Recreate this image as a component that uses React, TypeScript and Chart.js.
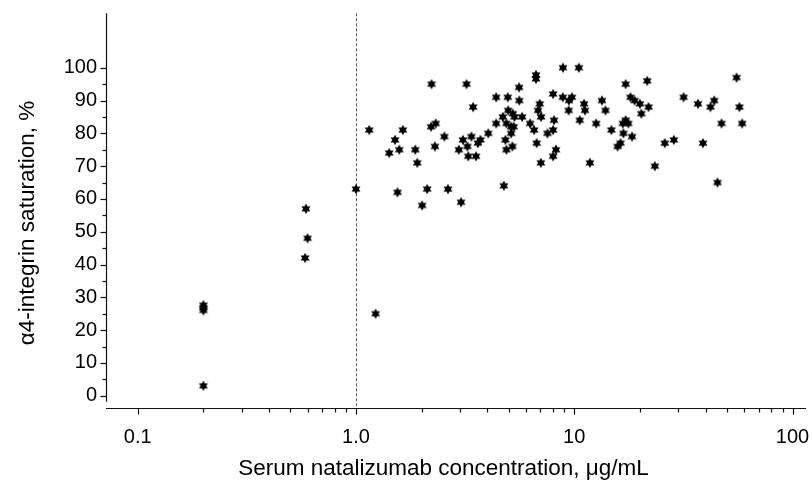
import React, { useEffect, useRef } from 'react';
import { Chart, registerables } from 'chart.js';

Chart.register(...registerables);

// ---- data ----
const concentration = [
  0.2, 0.2, 0.2, 0.2,
  0.59, 0.6, 0.585,
  1.0, 1.23, 2.01, 3.03,
  2.22, 3.21, 1.15, 1.64, 1.51, 1.42, 1.58, 1.87, 1.91, 2.21, 2.32, 2.54, 2.3,
  3.09, 2.96, 3.24, 3.27, 1.55, 2.12, 2.64,
  3.44, 3.38, 3.55, 3.72, 3.62, 4.04, 4.39, 4.39, 4.96, 4.76, 5.59, 5.6,
  4.71, 4.98, 5.23, 5.32, 5.77, 4.89, 5.14, 5.28, 5.14, 4.84, 4.89, 5.21,
  6.28, 6.55, 6.73, 7.03, 6.68, 6.68, 6.95, 6.83, 7.05,
  8.0, 8.08, 8.0, 7.54, 8.25, 8.0, 8.88, 10.5, 8.86, 9.46, 9.76, 9.43,
  11.1, 11.2, 10.6, 11.8, 12.6, 13.4, 13.9, 14.8,
  17.2, 21.6, 18.1, 18.9, 20.0, 21.9, 20.3, 17.2, 16.7, 17.7, 16.8, 18.4, 16.3, 15.8,
  23.4, 26.0, 28.6, 31.7, 36.9, 38.9, 42.1, 43.8, 45.3, 47.3, 55.4, 57.1, 58.8,
];
const saturation = [
  27.6, 26.8, 26, 3,
  57, 48, 42,
  63, 25, 58, 59,
  95, 95, 81, 81, 78, 74, 75, 75, 71, 82, 83, 79, 76,
  78, 75, 76, 73, 62, 63, 63,
  88, 79, 73, 78, 77, 80, 83, 91, 91, 64, 94, 90,
  85, 87, 86, 85, 85, 83, 82, 82, 80, 78, 75, 76,
  83, 81, 77, 71, 97.8, 96.6, 89, 87, 85,
  92, 84, 81, 80, 75, 73, 100, 100, 91, 90, 91, 87,
  89, 87, 84, 71, 83, 90, 87, 81,
  95, 96, 91, 90, 89, 88, 86, 84, 83, 83, 80, 79, 77, 76,
  70, 77, 78, 91, 89, 77, 88, 90, 65, 83, 97, 88, 83,
];

const xTickValues = [
  0.1, 0.2, 0.3, 0.4, 0.5, 0.6, 0.7, 0.8, 0.9,
  1, 2, 3, 4, 5, 6, 7, 8, 9,
  10, 20, 30, 40, 50, 60, 70, 80, 90, 100,
];
const xMajorValues = [0.1, 1, 10, 100];
const xMajorLabels = ['0.1', '1.0', '10', '100'];
const yTickValues = [0, 5, 10, 15, 20, 25, 30, 35, 40, 45, 50, 55, 60, 65, 70, 75, 80, 85, 90, 95, 100];
const xRange = [0.0716, 115.3];
const yRange = [-3.66, 116.6];
const yAxisLineBottom = -1.83;
const thresholdConcentration = 1.0;
const PAD = '\u00a0\u00a0\u00a0\u00a0';
const xTitle = 'Serum natalizumab concentration, \u03bcg/mL' + PAD;
const yTitle = '\u03b14-integrin saturation, %' + PAD;

const FONT = "'Liberation Sans', Arial, Helvetica, sans-serif";

function makeStar(): HTMLCanvasElement {
  const c = document.createElement('canvas');
  c.width = 12;
  c.height = 12;
  const g = c.getContext('2d')!;
  g.fillStyle = '#000';
  g.beginPath();
  const cx = 6, cy = 6, R = 5.2, r = 2.8;
  for (let i = 0; i < 12; i++) {
    const a = -Math.PI / 2 + (i * Math.PI) / 6;
    const rad = i % 2 === 0 ? R : r;
    const px = cx + rad * Math.cos(a);
    const py = cy + rad * Math.sin(a);
    if (i === 0) g.moveTo(px, py);
    else g.lineTo(px, py);
  }
  g.closePath();
  g.fill();
  return c;
}

const axesPlugin = {
  id: 'customAxes',
  beforeDatasetsDraw(chart: any) {
    const { ctx, chartArea, scales } = chart;
    const xs = scales.x;
    const ys = scales.y;
    ctx.save();
    // threshold dashed line
    const dx = Math.round(xs.getPixelForValue(thresholdConcentration)) + 0.5;
    ctx.strokeStyle = '#555';
    ctx.lineWidth = 1;
    ctx.setLineDash([3, 2]);
    ctx.beginPath();
    ctx.moveTo(dx, chartArea.top);
    ctx.lineTo(dx, chartArea.bottom);
    ctx.stroke();
    ctx.setLineDash([]);

    ctx.strokeStyle = '#111';
    ctx.lineWidth = 1.2;
    // y axis line
    const ax = Math.round(chartArea.left) + 0.5;
    ctx.beginPath();
    ctx.moveTo(ax, chartArea.top);
    ctx.lineTo(ax, ys.getPixelForValue(yAxisLineBottom));
    ctx.stroke();
    // x axis line
    const ay = Math.round(chartArea.bottom) + 0.5;
    ctx.beginPath();
    ctx.moveTo(chartArea.left, ay);
    ctx.lineTo(chartArea.right, ay);
    ctx.stroke();
    // y ticks
    yTickValues.forEach((v) => {
      const py = Math.round(ys.getPixelForValue(v)) + 0.5;
      const len = v % 10 === 0 ? 6 : 4;
      ctx.beginPath();
      ctx.moveTo(ax - len, py);
      ctx.lineTo(ax, py);
      ctx.stroke();
    });
    // x ticks
    xTickValues.forEach((v) => {
      const px = Math.round(xs.getPixelForValue(v)) + 0.5;
      const len = xMajorValues.includes(v) ? 6 : 4;
      ctx.beginPath();
      ctx.moveTo(px, ay);
      ctx.lineTo(px, ay + len);
      ctx.stroke();
    });
    ctx.restore();
  },
};

export default function App() {
  const ref = useRef<HTMLCanvasElement | null>(null);

  useEffect(() => {
    if (!ref.current) return;
    const star = makeStar();
    const points = concentration.map((c, i) => ({ x: c, y: saturation[i] }));
    const chart = new Chart(ref.current, {
      type: 'scatter',
      data: {
        datasets: [
          {
            data: points,
            pointStyle: star as any,
            pointRadius: 5,
            pointHoverRadius: 5,
            backgroundColor: '#000',
            borderColor: '#000',
            clip: false as any,
          },
        ],
      },
      plugins: [axesPlugin],
      options: {
        responsive: false,
        animation: false,
        devicePixelRatio: 1,
        layout: { padding: { top: 13.3, right: 4, left: 0, bottom: 0 } },
        plugins: { legend: { display: false }, tooltip: { enabled: false } },
        events: [],
        scales: {
          x: {
            type: 'logarithmic',
            position: 'bottom',
            min: xRange[0],
            max: xRange[1],
            bounds: 'data',
            grid: { display: false, drawTicks: false },
            border: { display: false },
            afterBuildTicks: (scale: any) => {
              scale.ticks = xTickValues.map((v) => ({ value: v, major: xMajorValues.includes(v) }));
            },
            afterFit: (scale: any) => {
              scale.height = 72.3;
              scale.paddingLeft = 0;
              scale.paddingRight = 0;
            },
            ticks: {
              autoSkip: false,
              maxRotation: 0,
              minRotation: 0,
              padding: 18,
              color: '#000',
              font: { family: FONT, size: 20 },
              callback: (value: any) => {
                const idx = xMajorValues.findIndex((m) => Math.abs(m - Number(value)) < 1e-9);
                return idx >= 0 ? xMajorLabels[idx] : '';
              },
            },
            title: {
              display: true,
              text: xTitle,
              color: '#000',
              font: { family: FONT, size: 22.5, lineHeight: 1 },
              padding: { top: 0, bottom: 0 },
            },
          },
          y: {
            type: 'linear',
            position: 'left',
            min: yRange[0],
            max: yRange[1],
            grid: { display: false, drawTicks: false },
            border: { display: false },
            afterBuildTicks: (scale: any) => {
              scale.ticks = yTickValues.map((v) => ({ value: v }));
            },
            afterFit: (scale: any) => {
              scale.width = 106;
              scale.paddingTop = 0;
              scale.paddingBottom = 0;
            },
            ticks: {
              autoSkip: false,
              padding: 9,
              color: '#000',
              font: { family: FONT, size: 20 },
              callback: (value: any) => (Number(value) % 10 === 0 ? String(value) : ''),
            },
            title: {
              display: true,
              text: yTitle,
              color: '#000',
              font: { family: FONT, size: 22.5, lineHeight: 1.2 },
              padding: { top: 14, bottom: 0 },
            },
          },
        },
      },
    });
    return () => chart.destroy();
  }, []);

  return (
    <div style={{ position: 'absolute', left: 0, top: 0, width: 812, height: 480, background: '#fff' }}>
      <canvas ref={ref} width={812} height={480} style={{ display: 'block' }} />
    </div>
  );
}
